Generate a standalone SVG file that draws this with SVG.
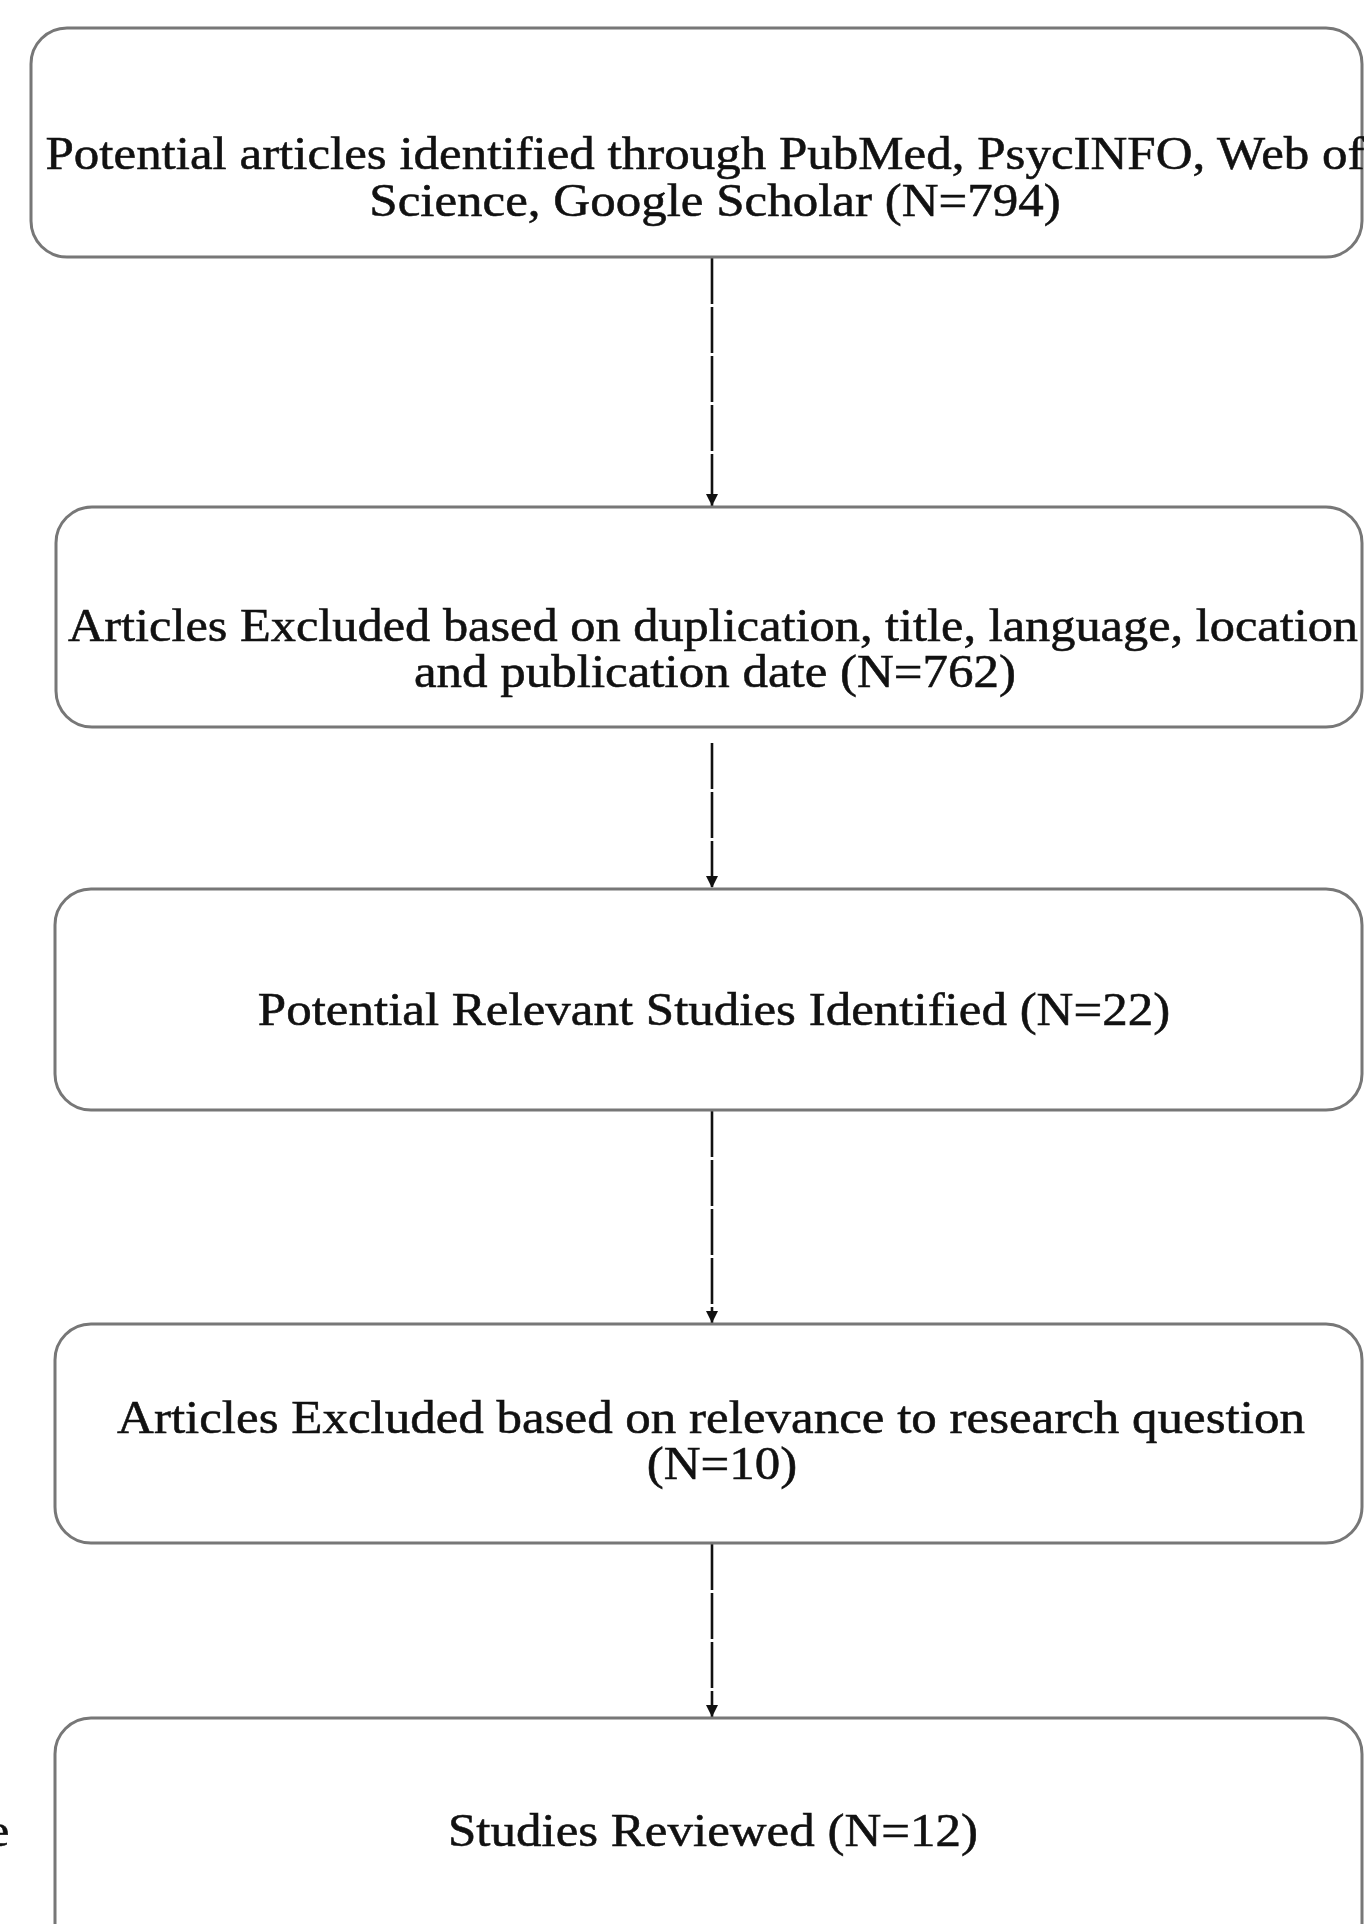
<svg xmlns="http://www.w3.org/2000/svg" width="1364" height="1924" viewBox="0 0 1364 1924">
<style>
.box{fill:#ffffff;stroke:#777777;stroke-width:3}
.t{font-family:"Liberation Serif","Times New Roman",serif;font-size:51px;fill:#111111;stroke:#111111;stroke-width:0.6;text-anchor:middle}
.c{stroke:#111;stroke-width:2.6;stroke-dasharray:46 3;fill:none}
</style>
<defs>
<marker id="ah" markerWidth="12" markerHeight="12" refX="10" refY="5" orient="auto" markerUnits="userSpaceOnUse" viewBox="0 0 10 10">
<path d="M0,0 L10,5 L0,10 Z" fill="#111"/>
</marker>
</defs>
<rect width="1364" height="1924" fill="#ffffff"/>
<g id="connectors">
<line class="c" x1="712" y1="258" x2="712" y2="506" marker-end="url(#ah)"/>
<line class="c" x1="712" y1="743" x2="712" y2="888" marker-end="url(#ah)"/>
<line class="c" x1="712" y1="1111" x2="712" y2="1323" marker-end="url(#ah)"/>
<line class="c" x1="712" y1="1544" x2="712" y2="1717" marker-end="url(#ah)"/>
</g>
<g id="node1">
<rect class="box" x="31" y="28" width="1331" height="229" rx="36"/>
<text class="t" transform="scale(1,0.93)"><tspan x="705" y="181.7">Potential articles identified through PubMed, PsycINFO, Web of</tspan><tspan x="715" y="232.3">Science, Google Scholar (N=794)</tspan></text>
</g>
<g id="node2">
<rect class="box" x="56" y="507" width="1306" height="220" rx="36"/>
<text class="t" transform="scale(1,0.93)"><tspan x="713" y="689.2" style="font-size:50.4px">Articles Excluded based on duplication, title, language, location</tspan><tspan x="715" y="738.7">and publication date (N=762)</tspan></text>
</g>
<g id="node3">
<rect class="box" x="55" y="889" width="1307" height="221" rx="36"/>
<text class="t" transform="scale(1,0.93)" x="714" y="1102.2">Potential Relevant Studies Identified (N=22)</text>
</g>
<g id="node4">
<rect class="box" x="55" y="1324" width="1307" height="219" rx="36"/>
<text class="t" transform="scale(1,0.93)"><tspan x="711" y="1540.9">Articles Excluded based on relevance to research question</tspan><tspan x="722" y="1590.3">(N=10)</tspan></text>
</g>
<g id="node5">
<rect class="box" x="55" y="1718" width="1307" height="260" rx="36"/>
<text class="t" transform="scale(1,0.93)" x="713" y="1985">Studies Reviewed (N=12)</text>
</g>
<text class="t" transform="scale(1,0.93)" x="-2" y="1985">e</text>
</svg>
